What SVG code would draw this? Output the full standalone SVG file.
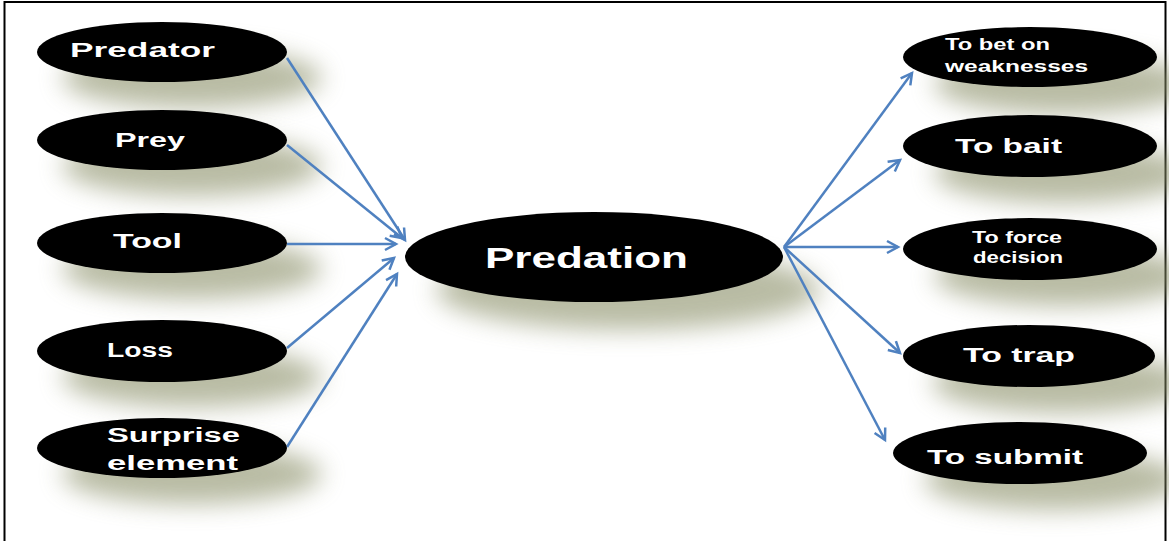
<svg xmlns="http://www.w3.org/2000/svg" width="1169" height="541" viewBox="0 0 1169 541">
<defs>
<style>
.node{fill:#000;}
.shadow{fill:#8a8f68;opacity:0.6;filter:url(#blur);}
.lbl{fill:#fff;font-family:"Liberation Sans",Arial,sans-serif;font-weight:bold;font-size:20px;}
.sm{font-size:16px;}
.big{font-size:29px;}
.conn{stroke:#4f81c0;stroke-width:2.5;fill:none;marker-end:url(#arr);}
</style>
<filter id="blur" x="-30%" y="-80%" width="160%" height="260%"><feGaussianBlur stdDeviation="12"/></filter>
<marker id="arr" markerWidth="16" markerHeight="16" refX="13" refY="8" orient="auto" markerUnits="userSpaceOnUse">
<path d="M2,2 L13,8 L2,14" fill="none" stroke="#4f81c0" stroke-width="2.5"/>
</marker>
</defs>
<rect x="0" y="0" width="1169" height="541" fill="#fff"/>
<rect x="4.5" y="2" width="1161" height="545" fill="none" stroke="#000" stroke-width="2"/>

<g id="shadows">
<ellipse class="shadow" cx="192" cy="78" rx="130" ry="30"/>
<ellipse class="shadow" cx="192" cy="166" rx="130" ry="30"/>
<ellipse class="shadow" cx="192" cy="269" rx="130" ry="30"/>
<ellipse class="shadow" cx="192" cy="377" rx="130" ry="30"/>
<ellipse class="shadow" cx="192" cy="474" rx="130" ry="30"/>
<ellipse class="shadow" cx="628" cy="290" rx="192" ry="40"/>
<ellipse class="shadow" cx="1064" cy="84" rx="130" ry="30"/>
<ellipse class="shadow" cx="1064" cy="173" rx="130" ry="30"/>
<ellipse class="shadow" cx="1064" cy="276" rx="130" ry="30"/>
<ellipse class="shadow" cx="1062" cy="383" rx="130" ry="30"/>
<ellipse class="shadow" cx="1054" cy="480" rx="130" ry="30"/>
</g>

<g id="connectors">
<line class="conn" x1="287" y1="58" x2="405" y2="240"/>
<line class="conn" x1="287" y1="145" x2="402" y2="238"/>
<line class="conn" x1="287" y1="244" x2="396" y2="244"/>
<line class="conn" x1="287" y1="348" x2="394" y2="258"/>
<line class="conn" x1="287" y1="447" x2="397" y2="274"/>
<line class="conn" x1="784" y1="247" x2="912" y2="73"/>
<line class="conn" x1="784" y1="247" x2="900" y2="160"/>
<line class="conn" x1="784" y1="247" x2="898" y2="247"/>
<line class="conn" x1="784" y1="247" x2="900" y2="353"/>
<line class="conn" x1="784" y1="247" x2="885" y2="440"/>
</g>

<g id="predator"><ellipse class="node" cx="162" cy="52" rx="125" ry="30"/><text class="lbl" x="70" y="57" textLength="145" lengthAdjust="spacingAndGlyphs">Predator</text></g>
<g id="prey"><ellipse class="node" cx="162" cy="140" rx="125" ry="30"/><text class="lbl" x="115" y="147" textLength="70" lengthAdjust="spacingAndGlyphs">Prey</text></g>
<g id="tool"><ellipse class="node" cx="162" cy="243" rx="125" ry="30"/><text class="lbl" x="113" y="248" textLength="69" lengthAdjust="spacingAndGlyphs">Tool</text></g>
<g id="loss"><ellipse class="node" cx="162" cy="351" rx="125" ry="31"/><text class="lbl" x="107" y="357" textLength="66" lengthAdjust="spacingAndGlyphs">Loss</text></g>
<g id="surprise"><ellipse class="node" cx="162" cy="448" rx="125" ry="30"/><text class="lbl" x="107" y="442" textLength="133" lengthAdjust="spacingAndGlyphs">Surprise</text><text class="lbl" x="107" y="470" textLength="131" lengthAdjust="spacingAndGlyphs">element</text></g>

<g id="predation"><ellipse class="node" cx="594" cy="257" rx="189" ry="45"/><text class="lbl big" x="485" y="268" textLength="203" lengthAdjust="spacingAndGlyphs">Predation</text></g>

<g id="bet"><ellipse class="node" cx="1030" cy="57" rx="127" ry="30"/><text class="lbl sm" x="945" y="50" textLength="105" lengthAdjust="spacingAndGlyphs">To bet on</text><text class="lbl sm" x="945" y="72" textLength="143" lengthAdjust="spacingAndGlyphs">weaknesses</text></g>
<g id="bait"><ellipse class="node" cx="1030" cy="146" rx="127" ry="31"/><text class="lbl" x="955" y="153" textLength="107" lengthAdjust="spacingAndGlyphs">To bait</text></g>
<g id="force"><ellipse class="node" cx="1030" cy="249" rx="127" ry="31"/><text class="lbl sm" x="972" y="243" textLength="90" lengthAdjust="spacingAndGlyphs">To force</text><text class="lbl sm" x="973" y="263" textLength="90" lengthAdjust="spacingAndGlyphs">decision</text></g>
<g id="trap"><ellipse class="node" cx="1029" cy="356" rx="126" ry="31"/><text class="lbl" x="963" y="362" textLength="112" lengthAdjust="spacingAndGlyphs">To trap</text></g>
<g id="submit"><ellipse class="node" cx="1020" cy="453" rx="127" ry="31"/><text class="lbl" x="927" y="464" textLength="156" lengthAdjust="spacingAndGlyphs">To submit</text></g>
</svg>
